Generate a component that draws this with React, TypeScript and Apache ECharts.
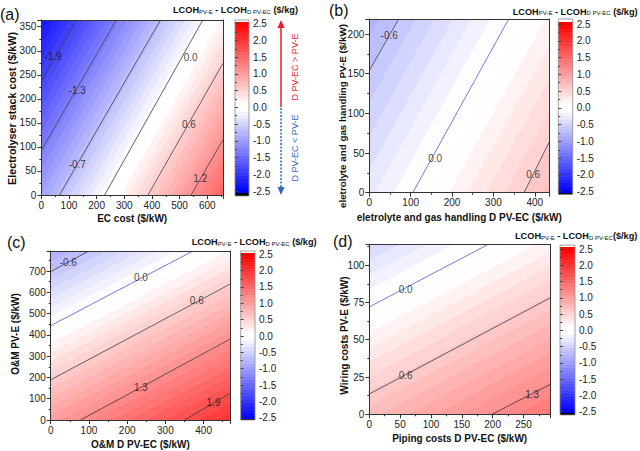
import React, { useEffect, useRef } from 'react';
import * as echarts from 'echarts';

const FONT = '"Liberation Sans", Arial, Helvetica, sans-serif';

// ---------- data ----------
const panelLetters = ['(a)', '(b)', '(c)', '(d)'];
const xNames = [
  'EC cost ($/kW)',
  'eletrolyte and gas handling D PV-EC ($/kW)',
  'O&M D PV-EC ($/kW)',
  'Piping costs D PV-EC ($/kW)',
];
const yNames = [
  'Electrolyser stack cost ($/kW)',
  'eletrolyte and gas handling PV-E ($/kW)',
  'O&M PV-E ($/kW)',
  'Wiring costs PV-E ($/kW)',
];
const xMaxes = [657, 435, 469, 293];
const yMaxes = [364, 219, 794, 114];
const xSteps = [100, 100, 100, 50];
const ySteps = [50, 50, 100, 25];

// LCOH difference read at bottom-left, bottom-right, top-left corners of each map
const cornersA = [-0.95, 1.56, -2.34];
const cornersB = [-0.28, 0.69, -0.8];
const cornersC = [1.0, 2.03, -0.87];
const cornersD = [0.71, 1.37, -0.46];

// contour levels, their end points and label anchors (data units)
const levelsA = ['-1.9', '-1.3', '-0.7', '0.0', '0.6', '1.2'];
const linesA = [
  [[0, 235], [128, 364]],
  [[0, 93], [271, 364]],
  [[66, 0], [431, 364]],
  [[229, 0], [584, 364]],
  [[386, 0], [657, 274]],
  [[542, 0], [657, 115]],
];
const labelsA = [[42, 289], [130, 217], [130, 63], [540, 286], [534, 146], [575, 34]];

const levelsB = ['-0.6', '0.0', '0.6'];
const linesB = [
  [[0, 154], [71, 219]],
  [[105, 0], [337, 219]],
  [[374, 0], [435, 64]],
];
const labelsB = [[48, 198], [159, 43], [396, 23]];

const levelsC = ['-0.6', '0.0', '0.6', '1.3', '1.9'];
const linesC = [
  [[0, 697], [100, 794]],
  [[0, 443], [372, 794]],
  [[0, 189], [469, 638]],
  [[78, 0], [469, 380]],
  [[350, 0], [469, 126]],
];
const labelsC = [[46, 742], [236, 670], [382, 560], [236, 154], [426, 80]];

const levelsD = ['0.0', '0.6', '1.3'];
const linesD = [
  [[0, 72], [193, 114]],
  [[0, 13.6], [293, 78]],
  [[199, 0], [293, 20]],
];
const labelsD = [[59, 84], [59, 26], [264, 13.6]];

// colour bar
const cbMin = -2.5;
const cbMax = 2.5;
const cbStep = 0.5;
const cbCapLow = [-2.65, -2.58, -2.57, -2.6];
const cbCapHigh = [2.61, 2.65, 2.6, 2.62];

const titleSubs = [
  ['PV-E', 'D PV-EC', ' ($/kg)'],
  ['PV-E', 'D PV-EC', ' ($/kg)'],
  ['PV-E', 'D PV-EC', ' ($/kg)'],
  ['PV-E', 'D PV-EC', '($/kg)'],
];

// ---------- layout ----------
const plotGrids = [
  { left: 41.3, top: 20, width: 181.7, height: 175 },
  { left: 369.3, top: 19, width: 180, height: 173.7 },
  { left: 50.7, top: 251, width: 179.3, height: 169 },
  { left: 369.3, top: 244.3, width: 180.7, height: 170 },
];
const cbGrids = [
  { left: 235, top: 23.7, width: 14, height: 167.3 },
  { left: 558.3, top: 24, width: 14.4, height: 167.7 },
  { left: 240.7, top: 254.3, width: 14.3, height: 163.4 },
  { left: 560, top: 249, width: 15, height: 162.7 },
];
const nameGapsX = [18, 19.5, 19, 19];
const yNamePos = [[11.7, 108.5], [342.7, 116], [15, 334], [344, 335.5]];
const yNameSizes = [10.8, 9.8, 10, 10];
const letterPos = [[0, 14], [329, 10], [7, 242], [333, 241.5]];
const titlePos = [[173, 9], [512.7, 10.7], [191.7, 241], [515, 235]];

const corners = [cornersA, cornersB, cornersC, cornersD];
const levels = [levelsA, levelsB, levelsC, levelsD];
const lines = [linesA, linesB, linesC, linesD];
const labels = [labelsA, labelsB, labelsC, labelsD];

function cmap(v: number): string {
  if (v > 2.52) return '#ffffff';
  if (v < -2.52) return '#000000';
  const w = 0.08;
  const t = Math.min(1, Math.max(0, Math.abs(v) - w) / (2.5 - w));
  const c = Math.round(255 * (1 - t));
  return v < 0 ? `rgb(${c},${c},255)` : `rgb(255,${c},${c})`;
}

function bandStops(fmin: number, fmax: number) {
  const stops: { offset: number; color: string }[] = [];
  const step = 0.1;
  const span = fmax - fmin;
  for (let k = -30; k <= 30; k++) {
    const lo = (k - 0.5) * step;
    const hi = (k + 0.5) * step;
    if (hi <= fmin || lo >= fmax) continue;
    const a = Math.max(lo, fmin);
    const b = Math.min(hi, fmax);
    const col = cmap(k * step);
    stops.push({ offset: (a - fmin) / span, color: col });
    stops.push({ offset: (b - fmin) / span, color: col });
  }
  return stops;
}

function fieldRenderer(i: number) {
  return (_params: any, api: any) => {
    const p00 = api.coord([0, 0]);
    const p10 = api.coord([xMaxes[i], 0]);
    const p01 = api.coord([0, yMaxes[i]]);
    const [bl, br, tl] = corners[i];
    const tr = br + tl - bl;
    const dxp = p10[0] - p00[0];
    const dyp = p01[1] - p00[1];
    const gx = (br - bl) / dxp;
    const gy = (tl - bl) / dyp;
    const g2 = gx * gx + gy * gy;
    const vals = [bl, br, tl, tr];
    const fmin = Math.min(...vals);
    const fmax = Math.max(...vals);
    const sx = p00[0] + ((fmin - bl) * gx) / g2;
    const sy = p00[1] + ((fmin - bl) * gy) / g2;
    const ex = p00[0] + ((fmax - bl) * gx) / g2;
    const ey = p00[1] + ((fmax - bl) * gy) / g2;
    const grad = new echarts.graphic.LinearGradient(sx, sy, ex, ey, bandStops(fmin, fmax), true);
    return {
      type: 'rect',
      shape: { x: p00[0], y: p01[1], width: dxp, height: p00[1] - p01[1] },
      style: { fill: grad },
    };
  };
}

function colorbarRenderer(i: number) {
  return (_params: any, api: any) => {
    const top = api.coord([0, cbCapHigh[i]]);
    const bot = api.coord([1, cbCapLow[i]]);
    const grad = new echarts.graphic.LinearGradient(0, bot[1], 0, top[1], bandStops(cbCapLow[i], cbCapHigh[i]), true);
    return {
      type: 'rect',
      shape: { x: top[0], y: top[1], width: bot[0] - top[0], height: bot[1] - top[1] },
      style: { fill: grad, stroke: '#8a8a8a', lineWidth: 0.8 },
    };
  };
}

function buildOption() {
  const grid: any[] = [...plotGrids, ...cbGrids].map((g) => ({ ...g, containLabel: false }));
  const xAxis: any[] = [];
  const yAxis: any[] = [];
  const series: any[] = [];
  const axisColor = '#333';
  const tickLabel = { fontFamily: FONT, fontSize: 10, color: '#222' };

  for (let i = 0; i < 4; i++) {
    const fx = (v: number) => (Math.abs(v % xSteps[i]) < 1e-6 ? String(v) : '');
    const fy = (v: number) => (Math.abs(v % ySteps[i]) < 1e-6 ? String(v) : '');
    xAxis.push({
      type: 'value', gridIndex: i, min: 0, max: xMaxes[i], interval: xSteps[i], position: 'bottom', z: 10,
      name: xNames[i], nameLocation: 'middle', nameGap: nameGapsX[i],
      nameTextStyle: { fontFamily: FONT, fontSize: 10, fontWeight: 'bold', color: '#111' },
      axisLine: { show: true, onZero: false, lineStyle: { color: axisColor, width: 1 } },
      axisTick: { show: true, length: 4, lineStyle: { color: axisColor } },
      minorTick: { show: true, splitNumber: 2, length: 2, lineStyle: { color: axisColor } },
      splitLine: { show: false },
      axisLabel: { ...tickLabel, margin: 5, showMaxLabel: false, formatter: fx },
    });
    xAxis.push({
      type: 'value', gridIndex: i, min: 0, max: xMaxes[i], position: 'top', z: 10,
      axisLine: { show: true, onZero: false, lineStyle: { color: axisColor, width: 1 } },
      axisTick: { show: false }, axisLabel: { show: false }, splitLine: { show: false },
    });
    yAxis.push({
      type: 'value', gridIndex: i, min: 0, max: yMaxes[i], interval: ySteps[i], position: 'left', z: 10,
      axisLine: { show: true, onZero: false, lineStyle: { color: axisColor, width: 1 } },
      axisTick: { show: true, length: 4, lineStyle: { color: axisColor } },
      minorTick: { show: true, splitNumber: 2, length: 2, lineStyle: { color: axisColor } },
      splitLine: { show: false },
      axisLabel: { ...tickLabel, margin: 5, showMaxLabel: false, formatter: fy },
    });
    yAxis.push({
      type: 'value', gridIndex: i, min: 0, max: yMaxes[i], position: 'right', z: 10,
      axisLine: { show: true, onZero: false, lineStyle: { color: axisColor, width: 1 } },
      axisTick: { show: false }, axisLabel: { show: false }, splitLine: { show: false },
    });

    series.push({
      type: 'custom', xAxisIndex: 2 * i, yAxisIndex: 2 * i, z: 1, silent: true, clip: false,
      data: [[0, 0]], renderItem: fieldRenderer(i),
    });
    lines[i].forEach((pts, j) => {
      const isZero = levels[i][j] === '0.0' && i > 0;
      series.push({
        type: 'line', xAxisIndex: 2 * i, yAxisIndex: 2 * i, z: 3, silent: true,
        data: pts, symbol: 'none',
        lineStyle: { color: isZero ? '#4b5bd6' : '#3c3c3c', width: 0.8 },
      });
    });
    series.push({
      type: 'scatter', xAxisIndex: 2 * i, yAxisIndex: 2 * i, z: 4, silent: true,
      symbol: 'circle', symbolSize: 0.1, itemStyle: { color: 'transparent' },
      data: labels[i].map((p, j) => ({ value: p, name: levels[i][j] })),
      label: { show: true, position: 'inside', formatter: '{b}', fontFamily: FONT, fontSize: 10, color: '#111' },
    });
  }

  for (let i = 0; i < 4; i++) {
    xAxis.push({ type: 'value', gridIndex: 4 + i, min: 0, max: 1, show: false });
    yAxis.push({
      type: 'value', gridIndex: 4 + i, min: cbMin, max: cbMax, interval: cbStep, position: 'right', z: 10,
      axisLine: { show: false },
      axisTick: { show: true, length: 3, lineStyle: { color: '#444' } },
      minorTick: { show: true, splitNumber: 2, length: 2, lineStyle: { color: '#444' } },
      splitLine: { show: false },
      axisLabel: { ...tickLabel, margin: 4, formatter: (v: number) => v.toFixed(1) },
    });
    series.push({
      type: 'custom', xAxisIndex: 8 + i, yAxisIndex: 8 + i, z: 1, silent: true, clip: false,
      data: [[0, 0]], renderItem: colorbarRenderer(i),
    });
  }

  const graphics: any[] = [];
  for (let i = 0; i < 4; i++) {
    graphics.push({
      type: 'text', x: letterPos[i][0], y: letterPos[i][1],
      style: { text: panelLetters[i], fontFamily: FONT, fontSize: 16, fill: '#111', align: 'left', verticalAlign: 'middle' },
    });
    graphics.push({
      type: 'text', x: yNamePos[i][0], y: yNamePos[i][1], rotation: Math.PI / 2,
      style: {
        text: yNames[i], fontFamily: FONT, fontSize: yNameSizes[i], fontWeight: 'bold', fill: '#111',
        align: 'center', verticalAlign: 'middle',
      },
    });
    const [s1, s2, tail] = titleSubs[i];
    graphics.push({
      type: 'text', x: titlePos[i][0], y: titlePos[i][1],
      style: {
        text: `{m|LCOH}{s|${s1}}{m| - LCOH}{s|${s2}}{m|${tail}}`,
        align: 'left', verticalAlign: 'middle',
        rich: {
          m: { fontFamily: FONT, fontSize: 9.2, fontWeight: 'bold', fill: '#111', verticalAlign: 'bottom', lineHeight: 11 },
          s: { fontFamily: FONT, fontSize: 6, fill: '#111', verticalAlign: 'bottom', lineHeight: 11 },
        },
      },
    });
  }
  const red = '#ec1c24';
  const blue = '#2f67c5';
  graphics.push(
    { type: 'line', shape: { x1: 281, y1: 107, x2: 281, y2: 26 }, style: { stroke: red, lineWidth: 1.5 } },
    { type: 'polygon', shape: { points: [[281, 20], [277.5, 28], [284.5, 28]] }, style: { fill: red } },
    { type: 'line', shape: { x1: 281, y1: 108, x2: 281, y2: 189 }, style: { stroke: blue, lineWidth: 1.5, lineDash: [2, 1.5] } },
    { type: 'polygon', shape: { points: [[281, 195], [277.5, 187], [284.5, 187]] }, style: { fill: blue } },
    {
      type: 'text', x: 295, y: 67, rotation: Math.PI / 2,
      style: { text: 'D PV-EC > PV-E', fill: red, fontSize: 9, fontFamily: FONT, align: 'center', verticalAlign: 'middle' },
    },
    {
      type: 'text', x: 295, y: 148, rotation: Math.PI / 2,
      style: { text: 'D PV-EC < PV-E', fill: blue, fontSize: 9, fontFamily: FONT, align: 'center', verticalAlign: 'middle' },
    },
  );

  return {
    animation: false,
    backgroundColor: '#ffffff',
    textStyle: { fontFamily: FONT },
    grid,
    xAxis,
    yAxis,
    series,
    graphic: { elements: graphics },
  };
}

export default function App() {
  const ref = useRef<HTMLDivElement>(null);
  useEffect(() => {
    const chart = echarts.init(ref.current as HTMLDivElement, null, { renderer: 'svg' });
    chart.setOption(buildOption() as any);
    return () => chart.dispose();
  }, []);
  return (
    <div
      ref={ref}
      style={{ position: 'fixed', left: 0, top: 0, width: 640, height: 451, background: '#fff' }}
    />
  );
}
